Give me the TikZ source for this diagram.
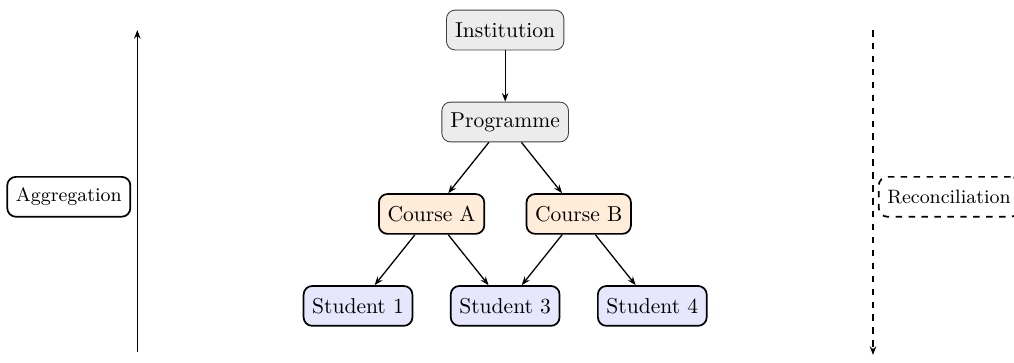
\documentclass[tikz,border=0pt]{standalone}
\definecolor{levelgray}{RGB}{236,236,236}
\definecolor{coursefill}{RGB}{255,236,217}
\definecolor{studentfill}{RGB}{230,230,252}
\usepackage{tikz}
\usetikzlibrary{arrows.meta, positioning}
\tikzset{
  level/.style={rectangle, rounded corners=4pt,
    draw=black!75, fill=levelgray, thin,
    minimum height=0.65cm, inner xsep=4pt, align=center},
  course/.style={rectangle, rounded corners=4pt,
    draw=black, fill=coursefill, thick,
    minimum height=0.65cm, inner xsep=4pt, align=center},
  student/.style={rectangle, rounded corners=4pt,
    draw=black, fill=studentfill, thick,
    minimum height=0.65cm, inner xsep=4pt, align=center},
  sidelabel/.style={rectangle, rounded corners=4pt,
    draw=black, fill=white, thick,
    minimum height=0.65cm, inner xsep=4pt, font=\small},
  arrow/.style={-{Stealth[length=4pt,width=3pt]}, semithick},
}

\begin{document}
\begin{tikzpicture}
  \useasboundingbox (-8.24,-5.43) rectangle (8.30,0.49);

  % hierarchy
  \node[level] (inst) at (0,0) {Institution};
  \node[level] (prog) at (0,-1.5) {Programme};
  \node[course] (ca) at (-1.2,-3) {Course A};
  \node[course] (cb) at (1.2,-3) {Course B};
  \node[student] (s1) at (-2.4,-4.5) {Student 1};
  \node[student] (s3) at (0,-4.5) {Student 3};
  \node[student] (s4) at (2.4,-4.5) {Student 4};

  \draw[arrow] (inst) -- (prog);
  \draw[arrow] (prog) -- (ca);
  \draw[arrow] (prog) -- (cb);
  \draw[arrow] (ca) -- (s1);
  \draw[arrow] (ca) -- (s3);
  \draw[arrow] (cb) -- (s3);
  \draw[arrow] (cb) -- (s4);

  % side arrows
  \coordinate (aggbot) at (-6,-5.25);
  \coordinate (aggtop) at (-6,0);
  \coordinate (rectop) at (6,0);
  \coordinate (recbot) at (6,-5.3);
  \draw[arrow] (aggbot) -- (aggtop);
  \draw[arrow, dashed] (rectop) -- (recbot);

  \node[sidelabel, anchor=east] (agg) at (-6.1,-2.72) {Aggregation};
  \node[sidelabel, dashed, anchor=west] (rec) at (6.08,-2.72) {Reconciliation};
\end{tikzpicture}
\end{document}
